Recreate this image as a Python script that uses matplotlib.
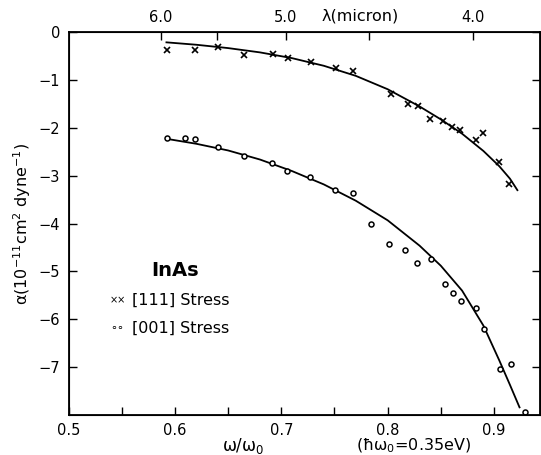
import matplotlib
matplotlib.use("Agg")
import matplotlib.pyplot as plt
import numpy as np

# [111] stress data (crosses)
x111 = [0.5921, 0.6184, 0.6405, 0.6649, 0.6922, 0.7063, 0.7279, 0.7514, 0.7674,
        0.8032, 0.8191, 0.8285, 0.8398, 0.8520, 0.8605, 0.8680, 0.8831, 0.8897,
        0.9047, 0.9141]
y111 = [-0.37, -0.37, -0.31, -0.47, -0.45, -0.53, -0.62, -0.75, -0.80,
        -1.29, -1.49, -1.54, -1.81, -1.85, -1.98, -2.04, -2.25, -2.10,
        -2.71, -3.17]
# [111] fitted curve
cx111 = [0.592, 0.62, 0.65, 0.68, 0.71, 0.74, 0.77, 0.80, 0.83, 0.85, 0.87,
         0.89, 0.905, 0.915, 0.922]
cy111 = [-0.21, -0.26, -0.33, -0.42, -0.54, -0.70, -0.91, -1.19, -1.55, -1.82,
         -2.12, -2.48, -2.80, -3.06, -3.30]

# [001] stress data (circles)
x001 = [0.5928, 0.6092, 0.6186, 0.6408, 0.6649, 0.6912, 0.7056, 0.7270, 0.7505,
        0.7671, 0.7841, 0.8016, 0.8166, 0.8276, 0.8405, 0.8536, 0.8617, 0.8693,
        0.8831, 0.8909, 0.9059, 0.9160, 0.9289]
y001 = [-2.203, -2.203, -2.224, -2.391, -2.579, -2.725, -2.906, -3.018, -3.290,
        -3.365, -4.000, -4.425, -4.543, -4.816, -4.739, -5.268, -5.440, -5.617,
        -5.770, -6.202, -7.038, -6.940, -7.943]
# [001] fitted curve
cx001 = [0.593, 0.62, 0.65, 0.68, 0.71, 0.74, 0.77, 0.80, 0.83, 0.85, 0.87,
         0.89, 0.905, 0.915, 0.924]
cy001 = [-2.23, -2.33, -2.47, -2.66, -2.90, -3.18, -3.52, -3.93, -4.46, -4.88,
         -5.40, -6.13, -6.86, -7.37, -7.84]

xticks = [0.5, 0.55, 0.6, 0.65, 0.7, 0.75, 0.8, 0.85, 0.9]
xticklabels = ['0.5', '', '0.6', '', '0.7', '', '0.8', '', '0.9']
yticks = [0, -1, -2, -3, -4, -5, -6, -7]
yticklabels = ['0', '\u22121', '\u22122', '\u22123', '\u22124', '\u22125', '\u22126', '\u22127']
lam_ticks = [6.0, 5.5, 5.0, 4.5, 4.0]
lam_labels = ['6.0', '', '5.0', '', '4.0']
lam_const = 3.52  # omega/omega0 = const / lambda(micron)

W, H = 541, 455
fig = plt.figure(figsize=(W / 100, H / 100), dpi=100)
L, R, T, B = 68.6, 540.0, 32.3, 415.0
ax = fig.add_axes([L / W, 1 - B / H, (R - L) / W, (B - T) / H])

ax.plot(cx111, cy111, color='black', lw=1.3)
ax.plot(x111, y111, linestyle='none', marker='x', ms=4, mew=1.2, color='black')
ax.plot(cx001, cy001, color='black', lw=1.3)
ax.plot(x001, y001, linestyle='none', marker='o', ms=3.6, mew=1.1,
        mfc='white', mec='black')

ax.set_xlim(0.5, 0.5 + (R - L) / 1063.5)
ax.set_ylim(-8.0, 0.0)
ax.set_xticks(xticks)
ax.set_xticklabels(xticklabels)
ax.set_yticks(yticks)
ax.set_yticklabels(yticklabels)
ax.tick_params(direction='in', length=6, width=1.0, labelsize=10.5, right=True,
               top=False, pad=6)
for s in ax.spines.values():
    s.set_linewidth(1.3)

top = ax.twiny()
top.set_xlim(ax.get_xlim())
top.set_xticks([lam_const / l for l in lam_ticks])
top.set_xticklabels(lam_labels)
top.tick_params(direction='in', length=6, width=1.0, labelsize=10.5, pad=5)

ax.set_ylabel('\u03b1(10$^{-11}$cm$^2$ dyne$^{-1}$)', fontsize=11.5, labelpad=4)
fig.text(360 / W, 1 - 16 / H, '\u03bb(micron)', fontsize=11.5, ha='center', va='center')
fig.text(243 / W, 1 - 446 / H, '\u03c9/\u03c9$_0$', fontsize=12, ha='center', va='center')
fig.text(414 / W, 1 - 446 / H, '(\u0127\u03c9$_0$=0.35eV)', fontsize=11.5, ha='center', va='center')

fig.text(175 / W, 1 - 270 / H, 'InAs', fontsize=14, fontweight='bold', ha='center', va='center')
fig.text(110 / W, 1 - 300 / H, '\u00d7\u00d7', fontsize=7, ha='left', va='center')
fig.text(132 / W, 1 - 300 / H, '[111] Stress', fontsize=11.5, ha='left', va='center')
fig.text(110 / W, 1 - 328 / H, '\u2218\u2218', fontsize=8, ha='left', va='center')
fig.text(132 / W, 1 - 328 / H, '[001] Stress', fontsize=11.5, ha='left', va='center')

fig.savefig('out.png', dpi=100)
